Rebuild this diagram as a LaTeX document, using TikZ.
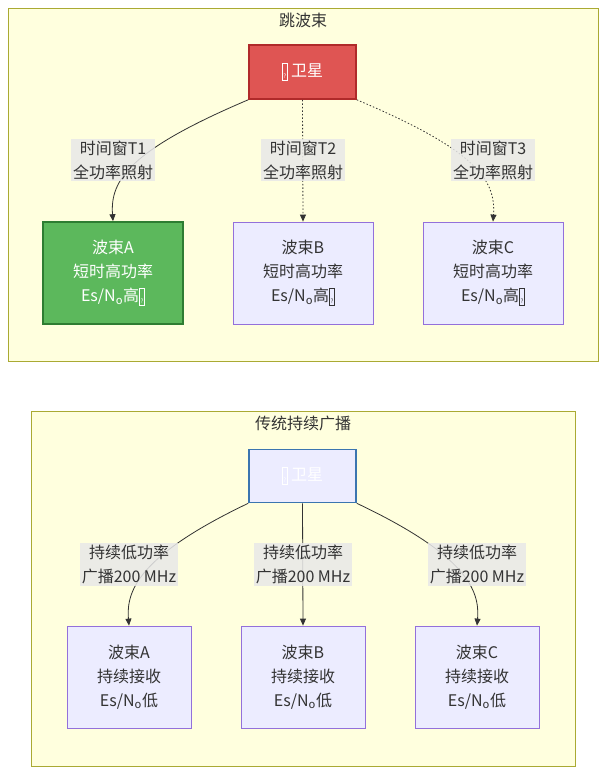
\documentclass[tikz,border=0pt]{standalone}
\usepackage{fontspec}
\setmainfont{Noto Sans CJK SC}
\usepackage{tikz}
\usetikzlibrary{arrows.meta, positioning, calc}
\definecolor{clusterfill}{HTML}{FFFFDE}
\definecolor{clusterline}{HTML}{AAAA33}
\definecolor{satred}{HTML}{DF5553}
\definecolor{satredline}{HTML}{B02A2A}
\definecolor{beamgreen}{HTML}{5CB85C}
\definecolor{beamgreenline}{HTML}{2E7D32}
\definecolor{beamfill}{HTML}{ECECFF}
\definecolor{beamline}{HTML}{9370DB}
\definecolor{satblueline}{HTML}{3B75B0}
\definecolor{labelfill}{HTML}{E8E8E8}
\definecolor{inktext}{HTML}{333333}
\newcommand{\tofu}{{\setlength{\fboxsep}{0.8pt}\setlength{\fboxrule}{0.7pt}\raisebox{-2pt}{\fbox{\rule{0pt}{14pt}\fontsize{6}{6}\selectfont ?}}}}
\newcommand{\eson}{Es/N\textsubscript{o}}
\tikzset{
  cluster/.style={fill=clusterfill, draw=clusterline, line width=0.8pt},
  beambox/.style={draw=beamline, fill=beamfill, line width=0.8pt, text=inktext,
    align=center, font=\fontsize{16}{24}\selectfont, minimum height=102pt},
  edgelabel/.style={fill=labelfill, fill opacity=0.85, text opacity=1, text=inktext,
    align=center, font=\fontsize{16}{24}\selectfont, inner sep=2pt},
  link/.style={draw=inktext, line width=0.8pt, -{Triangle[length=7pt,width=6pt]}},
  dotlink/.style={link, dash pattern=on 1.5pt off 2pt}
}
\begin{document}
\begin{tikzpicture}[x=1pt, y=-1pt]
\useasboundingbox (0,0) rectangle (606,774);
% hop beam cluster
\draw[cluster] (8,8) rectangle (598,361);
\node[text=inktext, font=\fontsize{16}{20}\selectfont] (hoptitle) at (303,20) {跳波束};
\node[draw=satredline, fill=satred, line width=1.6pt, text=white, minimum width=107pt,
  minimum height=54pt, font=\fontsize{16}{20}\selectfont] (sathop) at (302.5,72) {\tofu\ 卫星};
\node[beambox, draw=beamgreenline, fill=beamgreen, text=white, line width=1.6pt,
  minimum width=140pt] (hopA) at (113,273) {波束A\\短时高功率\\\eson 高\tofu};
\node[beambox, minimum width=140pt] (hopB) at (303,273) {波束B\\短时高功率\\\eson 高\tofu};
\node[beambox, minimum width=140pt] (hopC) at (493,273) {波束C\\短时高功率\\\eson 高\tofu};
\draw[link] (sathop.south west) .. controls (130,150) and (110,180) .. (hopA.north);
\draw[dotlink] (sathop.south) -- (hopB.north);
\draw[dotlink] (sathop.south east) .. controls (476,150) and (496,180) .. (hopC.north);
\node[edgelabel] (winA) at (113,160) {时间窗T1\\全功率照射};
\node[edgelabel] (winB) at (303,160) {时间窗T2\\全功率照射};
\node[edgelabel] (winC) at (493,160) {时间窗T3\\全功率照射};
% continuous broadcast cluster
\draw[cluster] (31,411) rectangle (575,766);
\node[text=inktext, font=\fontsize{16}{20}\selectfont] (bctitle) at (303,423) {传统持续广播};
\node[draw=satblueline, fill=beamfill, line width=1.6pt, text=white, minimum width=107pt,
  minimum height=53pt, font=\fontsize{16}{20}\selectfont] (satbc) at (302.5,476) {\tofu\ 卫星};
\node[beambox, minimum width=124pt] (bcA) at (129,677) {波束A\\持续接收\\\eson 低};
\node[beambox, minimum width=124pt] (bcB) at (303,677) {波束B\\持续接收\\\eson 低};
\node[beambox, minimum width=124pt] (bcC) at (477,677) {波束C\\持续接收\\\eson 低};
\draw[link] (satbc.south west) .. controls (140,555) and (126,590) .. (bcA.north);
\draw[link] (satbc.south) -- (bcB.north);
\draw[link] (satbc.south east) .. controls (466,555) and (480,590) .. (bcC.north);
\node[edgelabel] (bcwA) at (129,564) {持续低功率\\广播200 MHz};
\node[edgelabel] (bcwB) at (303,564) {持续低功率\\广播200 MHz};
\node[edgelabel] (bcwC) at (477,564) {持续低功率\\广播200 MHz};
\end{tikzpicture}
\end{document}
